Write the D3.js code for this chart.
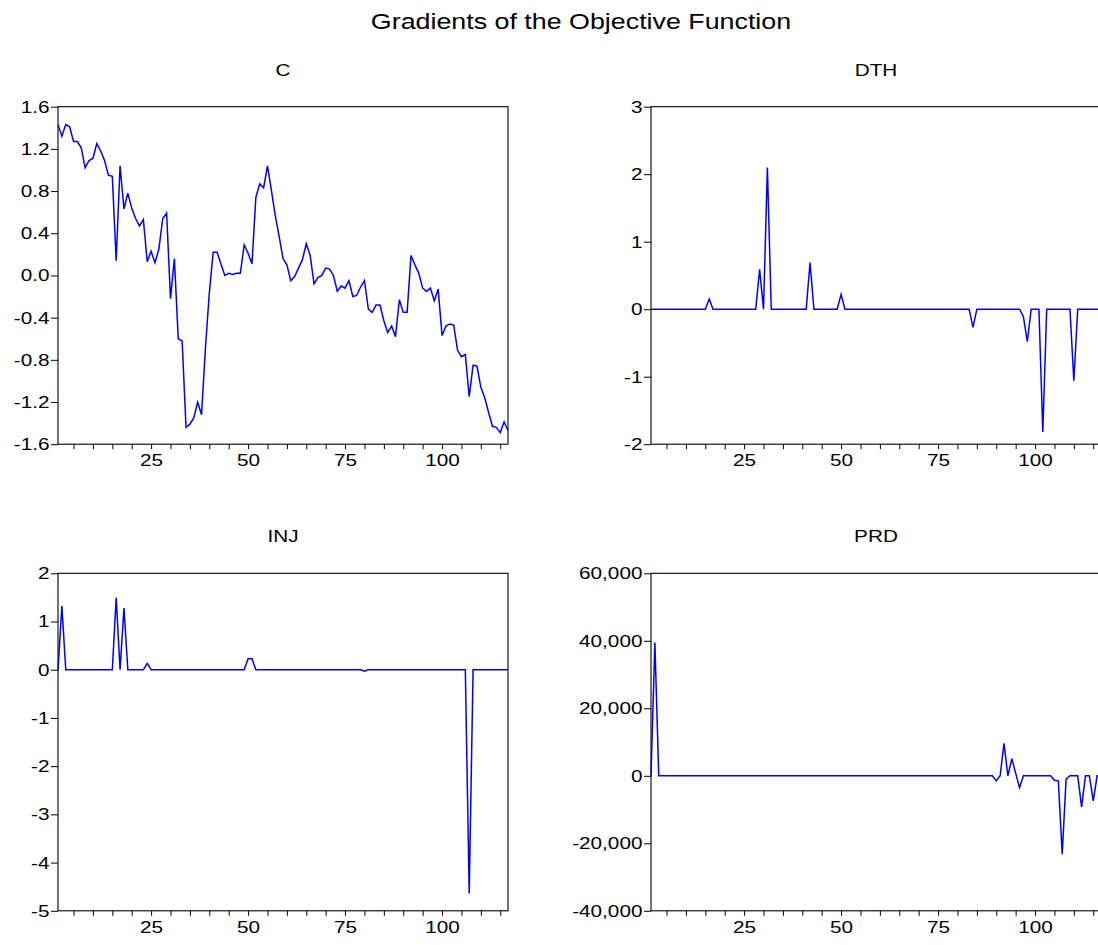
<!DOCTYPE html>
<html>
<head>
<meta charset="utf-8">
<script src="https://cdn.jsdelivr.net/npm/d3@7"></script>
<style>
  body { margin: 0; background: #fff; }
  text { font-family: "Liberation Sans", Arial, sans-serif; fill: #000; }
</style>
</head>
<body>
<svg id="chart" width="1098" height="945"></svg>
<script>
// observations 1..117
var obs = d3.range(1, 118);

var gradC = [
  1.43, 1.32, 1.43, 1.41, 1.27, 1.27, 1.21, 1.02, 1.09, 1.11,
  1.25, 1.18, 1.09, 0.95, 0.94, 0.14, 1.04, 0.63, 0.78, 0.64,
  0.54, 0.47, 0.53, 0.13, 0.23, 0.12, 0.25, 0.54, 0.59, -0.22,
  0.16, -0.60, -0.62, -1.44, -1.41, -1.35, -1.20, -1.32, -0.69, -0.17,
  0.22, 0.22, 0.11, 0.00, 0.02, 0.01, 0.02, 0.02, 0.29, 0.21,
  0.11, 0.74, 0.87, 0.83, 1.04, 0.81, 0.57, 0.37, 0.16, 0.10,
  -0.05, -0.01, 0.07, 0.15, 0.30, 0.19, -0.08, -0.02, 0.00, 0.07,
  0.06, 0.00, -0.15, -0.10, -0.12, -0.05, -0.20, -0.19, -0.11, -0.05,
  -0.32, -0.35, -0.28, -0.28, -0.43, -0.54, -0.48, -0.58, -0.23, -0.35,
  -0.35, 0.19, 0.10, 0.02, -0.12, -0.15, -0.12, -0.24, -0.13, -0.57,
  -0.48, -0.46, -0.47, -0.71, -0.77, -0.75, -1.15, -0.85, -0.86, -1.06,
  -1.16, -1.30, -1.43, -1.44, -1.49, -1.39, -1.47
];

var gradDTH = [
  0, 0, 0, 0, 0, 0, 0, 0, 0, 0,
  0, 0, 0, 0, 0, 0.15, 0, 0, 0, 0,
  0, 0, 0, 0, 0, 0, 0, 0, 0.59, 0,
  2.10, 0, 0, 0, 0, 0, 0, 0, 0, 0,
  0, 0.69, 0, 0, 0, 0, 0, 0, 0, 0.22,
  0, 0, 0, 0, 0, 0, 0, 0, 0, 0,
  0, 0, 0, 0, 0, 0, 0, 0, 0, 0,
  0, 0, 0, 0, 0, 0, 0, 0, 0, 0,
  0, 0, 0, -0.27, 0, 0, 0, 0, 0, 0,
  0, 0, 0, 0, 0, 0, -0.11, -0.48, 0, 0,
  0, -1.82, 0, 0, 0, 0, 0, 0, 0, -1.06,
  0, 0, 0, 0, 0, 0, 0
];

var gradINJ = [
  0, 1.32, 0, 0, 0, 0, 0, 0, 0, 0,
  0, 0, 0, 0, 0, 1.49, 0, 1.28, 0, 0,
  0, 0, 0, 0.13, 0, 0, 0, 0, 0, 0,
  0, 0, 0, 0, 0, 0, 0, 0, 0, 0,
  0, 0, 0, 0, 0, 0, 0, 0, 0, 0.23,
  0.23, 0, 0, 0, 0, 0, 0, 0, 0, 0,
  0, 0, 0, 0, 0, 0, 0, 0, 0, 0,
  0, 0, 0, 0, 0, 0, 0, 0, 0, -0.03,
  0, 0, 0, 0, 0, 0, 0, 0, 0, 0,
  0, 0, 0, 0, 0, 0, 0, 0, 0, 0,
  0, 0, 0, 0, 0, 0, -4.64, 0, 0, 0,
  0, 0, 0, 0, 0, 0, 0
];

var gradPRD = [
  0, 39500, 0, 0, 0, 0, 0, 0, 0, 0,
  0, 0, 0, 0, 0, 0, 0, 0, 0, 0,
  0, 0, 0, 0, 0, 0, 0, 0, 0, 0,
  0, 0, 0, 0, 0, 0, 0, 0, 0, 0,
  0, 0, 0, 0, 0, 0, 0, 0, 0, 0,
  0, 0, 0, 0, 0, 0, 0, 0, 0, 0,
  0, 0, 0, 0, 0, 0, 0, 0, 0, 0,
  0, 0, 0, 0, 0, 0, 0, 0, 0, 0,
  0, 0, 0, 0, 0, 0, 0, 0, 0, -1500,
  0, 9600, 0, 5100, 800, -3500, 0, 0, 0, 0,
  0, 0, 0, 0, -1300, -1500, -23200, -1000, 0, 0,
  0, -9200, 0, 0, -7400, 0, 0
];

var ticksC = [-1.6, -1.2, -0.8, -0.4, 0.0, 0.4, 0.8, 1.2, 1.6];
var ticksDTH = [-2, -1, 0, 1, 2, 3];
var ticksINJ = [-5, -4, -3, -2, -1, 0, 1, 2];
var ticksPRD = [-40000, -20000, 0, 20000, 40000, 60000];
var xTicks = d3.range(5, 120, 5);
var xLabels = [25, 50, 75, 100];

var loc = d3.formatLocale({decimal: ".", thousands: ",", grouping: [3], currency: ["$", ""], minus: "-"});

var svg = d3.select("#chart");
var pw = 450, ph = 337.5;
var wide = "scale(1.22,1)";   // text in the reference is drawn a bit wider than plain Arial

svg.append("text")
    .attr("transform", "translate(581,29) " + wide)
    .attr("text-anchor", "middle")
    .style("font-size", "22px")
    .text("Gradients of the Objective Function");

function panel(name, values, ticks, fmt, left, top) {
  var x = d3.scaleLinear().domain([1, 117]).range([0, pw]),
      y = d3.scaleLinear().domain([ticks[0], ticks[ticks.length - 1]]).range([ph, 0]);

  var g = svg.append("g").attr("transform", "translate(" + left + "," + top + ")");

  g.append("text")
      .attr("transform", "translate(" + (pw / 2) + ",-31) " + wide)
      .attr("text-anchor", "middle")
      .style("font-size", "17px")
      .text(name);

  g.append("g")
      .attr("transform", "translate(0," + ph + ")")
      .call(d3.axisBottom(x).tickValues(xTicks).tickSize(5).tickPadding(5)
        .tickFormat(function(d) { return xLabels.indexOf(d) >= 0 ? d : ""; }))
      .call(function(a) { a.select(".domain").remove(); })
      .selectAll("text")
      .style("font-size", "17px")
      .attr("transform", wide);

  g.append("g")
      .call(d3.axisLeft(y).tickValues(ticks).tickSize(7).tickPadding(0).tickFormat(loc.format(fmt)))
      .call(function(a) { a.select(".domain").remove(); })
      .selectAll("text")
      .style("font-size", "17px")
      .attr("transform", wide);

  g.append("rect")
      .attr("width", pw).attr("height", ph)
      .attr("fill", "none").attr("stroke", "#000").attr("stroke-width", 1.1);

  g.append("path")
      .datum(values)
      .attr("fill", "none")
      .attr("stroke", "#0000ff")
      .attr("stroke-width", 1.5)
      .attr("d", d3.line()
        .x(function(d, i) { return x(obs[i]); })
        .y(function(d) { return y(d); }));
}

panel("C", gradC, ticksC, ".1f", 58, 106.7);
panel("DTH", gradDTH, ticksDTH, "d", 651, 106.7);
panel("INJ", gradINJ, ticksINJ, "d", 58, 573.3);
panel("PRD", gradPRD, ticksPRD, ",d", 651, 573.3);
</script>
</body>
</html>
